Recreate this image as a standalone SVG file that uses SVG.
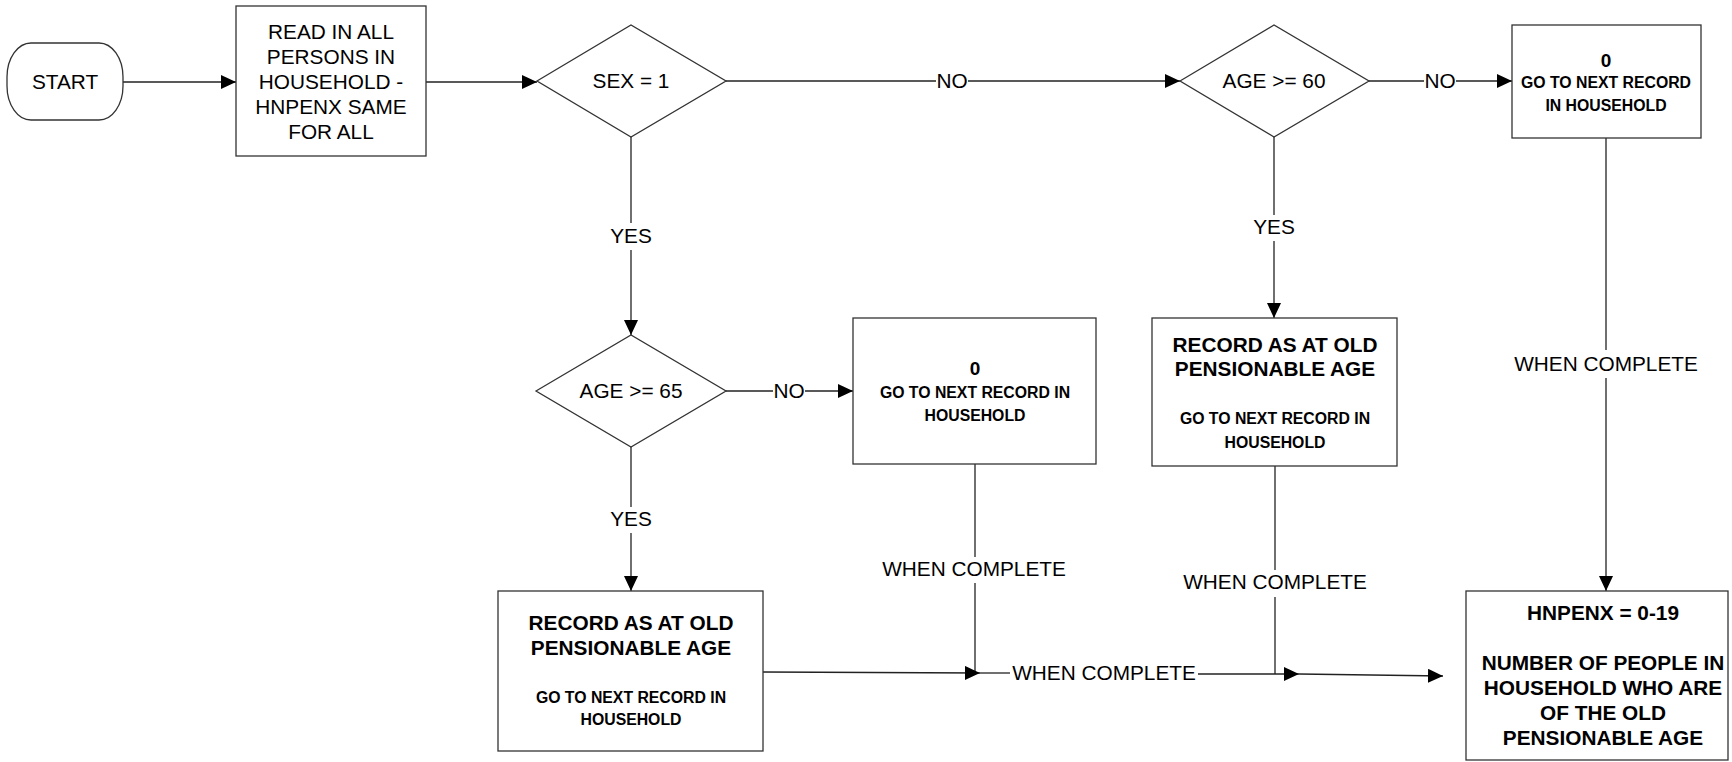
<svg xmlns="http://www.w3.org/2000/svg" width="1732" height="762" viewBox="0 0 1732 762">
<style>
  .shape { fill: #ffffff; stroke: #333333; stroke-width: 1.3; }
  .line { fill: none; stroke: #222222; stroke-width: 1.3; }
  .arrow { marker-end: url(#ah); }
  text { font-family: "Liberation Sans", Arial, sans-serif; fill: #000000; text-anchor: middle; }
  .t { font-size: 20.8px; }
  .b { font-size: 20.8px; font-weight: bold; }
  .s { font-size: 15.8px; font-weight: bold; }
  .z { font-size: 19px; font-weight: bold; }
</style>
<defs>
  <marker id="ah" markerUnits="userSpaceOnUse" markerWidth="15" markerHeight="14" refX="15" refY="7" orient="auto">
    <path d="M0,0 L15,7 L0,14 Z" fill="#000000"/>
  </marker>
</defs>
<rect width="1732" height="762" fill="#ffffff"/>

<g id="connectors">
  <line class="line arrow" x1="123" y1="82" x2="236" y2="82"/>
  <line class="line arrow" x1="426" y1="82" x2="537" y2="82"/>
  <line class="line" x1="726" y1="81" x2="936" y2="81"/>
  <line class="line arrow" x1="968" y1="81" x2="1180" y2="81"/>
  <text class="t" x="952" y="88.4">NO</text>
  <line class="line" x1="1369" y1="81" x2="1424" y2="81"/>
  <line class="line arrow" x1="1456" y1="81" x2="1512" y2="81"/>
  <text class="t" x="1440" y="88.4">NO</text>
  <line class="line" x1="631" y1="137" x2="631" y2="223"/>
  <line class="line arrow" x1="631" y1="250" x2="631" y2="335"/>
  <text class="t" x="631" y="243.4">YES</text>
  <line class="line" x1="1274" y1="137" x2="1274" y2="215"/>
  <line class="line arrow" x1="1274" y1="241" x2="1274" y2="318"/>
  <text class="t" x="1274" y="234.4">YES</text>
  <line class="line" x1="726" y1="391" x2="773" y2="391"/>
  <line class="line arrow" x1="805" y1="391" x2="853" y2="391"/>
  <text class="t" x="789" y="398.4">NO</text>
  <line class="line" x1="631" y1="447" x2="631" y2="507"/>
  <line class="line arrow" x1="631" y1="533" x2="631" y2="591"/>
  <text class="t" x="631" y="526.4">YES</text>
  <line class="line" x1="1606" y1="138" x2="1606" y2="350"/>
  <line class="line arrow" x1="1606" y1="378" x2="1606" y2="591"/>
  <text class="t" x="1606" y="371.4">WHEN COMPLETE</text>
  <line class="line" x1="975" y1="464" x2="975" y2="557"/>
  <line class="line" x1="975" y1="583" x2="975" y2="673"/>
  <text class="t" x="974" y="576.4">WHEN COMPLETE</text>
  <line class="line" x1="1275" y1="466" x2="1275" y2="570"/>
  <line class="line" x1="1275" y1="597" x2="1275" y2="674"/>
  <text class="t" x="1275" y="589.4">WHEN COMPLETE</text>
  <line class="line arrow" x1="763" y1="672" x2="980" y2="673"/>
  <line class="line" x1="980" y1="673" x2="1010" y2="673"/>
  <text class="t" x="1104" y="680.4">WHEN COMPLETE</text>
  <line class="line arrow" x1="1198" y1="674" x2="1299" y2="674"/>
  <line class="line arrow" x1="1299" y1="674" x2="1443" y2="676"/>
</g>

<g id="start">
  <rect class="shape" x="7" y="43" width="116" height="77" rx="24" ry="34"/>
  <text class="t" x="65" y="89.4">START</text>
</g>

<g id="read">
  <rect class="shape" x="236" y="6" width="190" height="150"/>
  <text class="t" x="331" y="39.4">READ IN ALL</text>
  <text class="t" x="331" y="64.4">PERSONS IN</text>
  <text class="t" x="331" y="89.4">HOUSEHOLD -</text>
  <text class="t" x="331" y="114.4">HNPENX SAME</text>
  <text class="t" x="331" y="139.4">FOR ALL</text>
</g>

<g id="sex">
  <polygon class="shape" points="537,81 631,25 726,81 631,137"/>
  <text class="t" x="631" y="88.4">SEX = 1</text>
</g>

<g id="age60">
  <polygon class="shape" points="1180,81 1274,25 1369,81 1274,137"/>
  <text class="t" x="1274" y="88.4">AGE &gt;= 60</text>
</g>

<g id="next-top">
  <rect class="shape" x="1512" y="25" width="189" height="113"/>
  <text class="z" x="1606" y="66.8">0</text>
  <text class="s" x="1606" y="87.7">GO TO NEXT RECORD</text>
  <text class="s" x="1606" y="110.7">IN HOUSEHOLD</text>
</g>

<g id="age65">
  <polygon class="shape" points="536,391 631,335 726,391 631,447"/>
  <text class="t" x="631" y="398.4">AGE &gt;= 65</text>
</g>

<g id="next-mid">
  <rect class="shape" x="853" y="318" width="243" height="146"/>
  <text class="z" x="975" y="374.8">0</text>
  <text class="s" x="975" y="397.7">GO TO NEXT RECORD IN</text>
  <text class="s" x="975" y="420.7">HOUSEHOLD</text>
</g>

<g id="record-right">
  <rect class="shape" x="1152" y="318" width="245" height="148"/>
  <text class="b" x="1275" y="352.4">RECORD AS AT OLD</text>
  <text class="b" x="1275" y="376.4">PENSIONABLE AGE</text>
  <text class="s" x="1275" y="423.7">GO TO NEXT RECORD IN</text>
  <text class="s" x="1275" y="447.7">HOUSEHOLD</text>
</g>

<g id="record-left">
  <rect class="shape" x="498" y="591" width="265" height="160"/>
  <text class="b" x="631" y="630.4">RECORD AS AT OLD</text>
  <text class="b" x="631" y="655.4">PENSIONABLE AGE</text>
  <text class="s" x="631" y="702.7">GO TO NEXT RECORD IN</text>
  <text class="s" x="631" y="724.7">HOUSEHOLD</text>
</g>

<g id="hnpenx">
  <rect class="shape" x="1466" y="591" width="262" height="169"/>
  <text class="b" x="1603" y="620.4">HNPENX = 0-19</text>
  <text class="b" x="1603" y="670.4">NUMBER OF PEOPLE IN</text>
  <text class="b" x="1603" y="695.4">HOUSEHOLD WHO ARE</text>
  <text class="b" x="1603" y="720.4">OF THE OLD</text>
  <text class="b" x="1603" y="745.4">PENSIONABLE AGE</text>
</g>
</svg>
